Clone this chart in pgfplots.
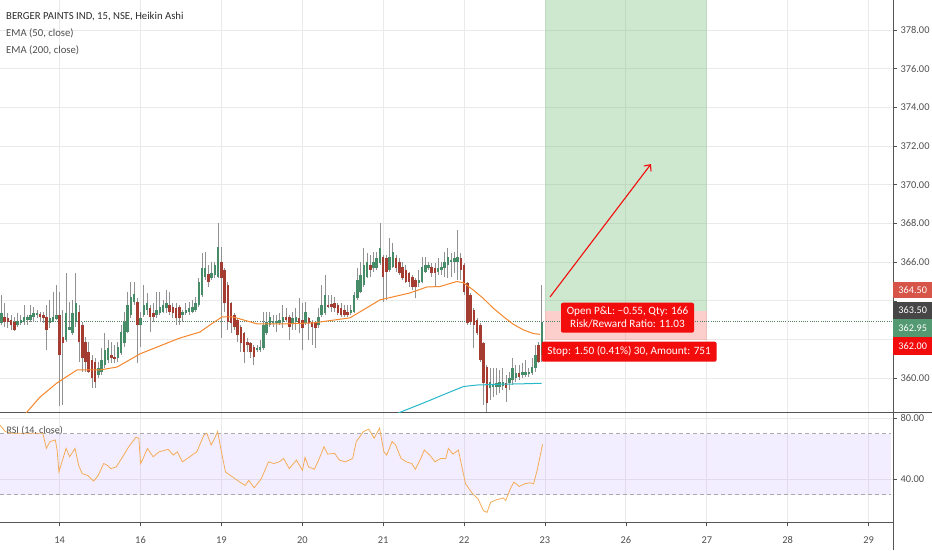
\documentclass[border=0pt]{standalone}
\usepackage{fontspec}
\setmainfont{Carlito}
\usepackage{pgfplots}
\usepackage{pgfplotstable}
\pgfplotsset{compat=1.18}
\usetikzlibrary{arrows.meta}

\definecolor{upc}{RGB}{70,140,105}
\definecolor{dnc}{RGB}{165,60,50}
\definecolor{wickc}{RGB}{145,145,145}
\definecolor{gridc}{RGB}{234,234,234}
\definecolor{axisc}{RGB}{85,85,85}
\definecolor{labc}{RGB}{80,80,80}
\definecolor{titc}{RGB}{45,45,45}
\definecolor{ema50}{RGB}{245,135,45}
\definecolor{ema200}{RGB}{40,185,200}
\definecolor{rsic}{RGB}{244,172,88}
\definecolor{tvred}{RGB}{242,12,12}
\definecolor{tvgreen}{RGB}{76,175,80}
\definecolor{tvpink}{RGB}{244,67,54}
\definecolor{bandc}{RGB}{153,102,255}
\definecolor{lastc}{RGB}{80,130,100}
\definecolor{hic}{RGB}{214,84,72}
\definecolor{entc}{RGB}{70,70,70}
\definecolor{curc}{RGB}{83,153,114}
\definecolor{dashc}{RGB}{170,170,170}

% Heikin Ashi candles, 15 min: x (trading day index) o h l c
\pgfplotstableread{
x o h l c
-0.72 362.84 364.31 362.76 363.36
-0.68 363.19 363.88 362.67 362.93
-0.64 363.14 363.36 362.58 362.90
-0.60 363.01 363.27 362.50 362.76
-0.56 362.93 363.19 362.45 362.50
-0.52 362.76 363.36 362.67 362.96
-0.48 362.84 363.27 362.76 363.01
-0.44 362.93 363.79 362.76 363.19
-0.40 363.01 363.27 362.76 363.19
-0.36 363.01 363.79 362.90 363.27
-0.32 363.19 363.70 362.93 363.36
-0.28 363.27 363.53 363.10 363.36
-0.24 363.31 363.44 362.90 363.19
-0.20 363.27 363.44 362.84 363.10
-0.16 363.19 363.79 361.46 362.50
-0.12 362.84 364.05 362.58 363.10
-0.08 362.93 364.48 362.93 363.19
-0.04 363.07 364.82 363.01 363.27
0.00 363.27 364.48 358.59 361.20
0.04 362.15 363.53 358.62 361.81
0.08 361.98 365.43 361.89 363.36
0.12 362.50 363.96 362.50 362.67
0.16 362.32 364.05 362.24 363.36
0.20 362.93 365.43 362.67 363.88
0.24 363.44 363.79 360.86 361.89
0.28 362.76 362.93 360.34 361.03
0.32 361.89 362.15 360.34 360.86
0.36 361.38 361.89 360.26 360.34
0.40 360.95 361.20 359.48 360.00
0.44 360.86 361.03 359.48 359.83
0.48 360.17 360.86 360.00 360.52
0.52 360.34 361.55 360.17 360.95
0.56 360.69 362.32 360.52 361.46
0.60 360.95 361.98 360.77 361.55
0.64 361.20 361.89 360.77 361.03
0.68 361.12 361.72 360.77 361.00
0.72 361.03 361.89 360.86 361.64
0.76 361.29 362.76 361.20 362.41
0.80 361.81 363.44 361.64 362.93
0.84 362.41 364.48 362.32 363.79
0.88 363.27 365.00 363.10 364.22
0.92 363.96 365.00 363.79 364.35
0.96 363.96 364.13 360.77 362.76
1.00 362.76 363.44 361.64 363.10
1.04 363.27 364.82 363.19 363.79
1.08 363.53 364.39 363.27 363.88
1.12 363.62 363.79 362.41 363.19
1.16 363.36 363.88 362.93 363.19
1.20 363.27 364.48 363.10 363.53
1.24 363.36 364.48 363.27 363.70
1.28 363.44 364.05 363.36 363.79
1.32 363.62 364.56 363.36 363.88
1.36 363.79 364.48 363.27 363.44
1.40 363.70 363.88 363.10 363.36
1.44 363.62 363.88 362.76 363.10
1.48 363.70 363.79 362.76 363.10
1.52 363.27 363.53 362.93 363.44
1.56 363.36 363.88 363.27 363.53
1.60 363.44 363.96 363.27 363.62
1.64 363.44 364.05 363.36 363.70
1.68 363.53 364.22 363.44 363.88
1.72 363.79 365.17 363.70 365.00
1.76 364.31 366.46 364.22 365.68
1.80 365.25 366.55 365.08 365.68
1.84 365.38 365.86 364.74 365.00
1.88 365.17 366.03 365.08 365.43
1.92 365.34 366.03 365.17 365.86
1.96 365.25 368.01 365.17 366.80
2.00 366.03 366.80 362.07 365.17
2.04 365.60 365.68 363.44 363.88
2.08 364.82 365.00 362.50 362.93
2.12 363.88 363.96 362.32 362.84
2.16 363.27 363.36 362.50 362.67
2.20 363.01 363.10 361.89 362.24
2.24 362.67 362.76 361.38 361.81
2.28 362.32 362.41 360.77 361.38
2.32 361.89 362.07 361.38 361.72
2.36 361.81 361.89 361.03 361.38
2.40 361.64 361.72 360.69 361.12
2.44 361.46 361.72 361.38 361.55
2.48 361.46 361.98 361.38 361.64
2.52 361.55 363.44 361.46 362.76
2.56 362.32 363.44 362.24 362.93
2.60 362.76 363.44 362.67 363.19
2.64 362.84 363.27 362.67 362.96
2.68 362.84 363.27 362.41 362.96
2.72 362.84 363.36 362.76 363.01
2.76 362.93 363.79 362.58 363.19
2.80 363.19 363.62 362.93 363.01
2.84 363.19 363.27 361.98 362.67
2.88 362.84 363.44 362.50 363.10
2.92 362.93 363.62 362.50 363.19
2.96 363.10 364.13 362.32 362.84
3.00 363.01 363.88 361.46 362.58
3.04 362.84 363.96 362.76 363.44
3.08 363.10 363.19 361.98 362.84
3.12 362.93 363.01 361.72 362.67
3.16 362.84 362.93 361.55 362.58
3.20 362.76 363.62 362.58 363.19
3.24 363.27 364.82 363.19 363.79
3.28 363.36 365.34 363.27 364.31
3.32 363.79 364.31 363.62 363.70
3.36 363.82 364.31 363.44 363.66
3.40 363.88 364.22 363.44 363.62
3.44 363.79 363.88 363.27 363.36
3.48 363.62 363.88 363.19 363.27
3.52 363.53 363.79 363.19 363.27
3.56 363.44 363.79 363.19 363.27
3.60 363.36 363.79 363.27 363.53
3.64 363.44 364.48 363.36 364.31
3.68 364.13 365.68 364.05 365.08
3.72 364.48 366.03 364.39 365.34
3.76 364.82 366.72 364.74 365.86
3.80 365.25 366.46 365.17 366.03
3.84 365.86 366.37 365.25 365.60
3.88 365.68 366.55 365.51 366.03
3.92 365.68 366.55 365.60 366.20
3.96 365.94 368.01 365.86 366.72
4.00 366.29 366.37 363.96 365.25
4.04 366.20 366.37 364.05 365.51
4.08 365.60 367.23 365.51 366.29
4.12 365.77 366.98 365.68 366.55
4.16 366.20 366.37 365.51 365.68
4.20 366.03 366.20 365.34 365.43
4.24 365.77 366.03 365.08 365.17
4.28 365.60 365.86 364.91 365.00
4.32 365.43 365.51 364.74 365.00
4.36 365.25 365.34 364.56 364.74
4.40 365.08 365.17 364.13 364.74
4.44 364.91 365.60 364.74 365.08
4.48 365.00 366.29 364.91 365.77
4.52 365.51 366.29 365.43 365.86
4.56 365.68 366.03 365.60 365.86
4.60 365.77 365.94 365.25 365.43
4.64 365.68 365.94 364.74 365.43
4.68 365.51 366.20 365.34 365.68
4.72 365.60 366.03 365.34 365.77
4.76 365.68 366.55 365.25 366.03
4.80 365.86 366.72 365.17 366.29
4.84 366.03 366.46 365.25 366.11
4.88 366.03 366.55 365.43 366.20
4.92 366.03 367.66 365.08 366.29
4.96 366.20 366.46 365.08 365.60
5.00 365.86 365.94 364.31 364.48
5.04 364.91 365.00 362.76 362.84
5.08 364.31 364.39 362.76 362.93
5.12 363.53 363.62 361.55 362.76
5.16 363.01 363.10 362.24 362.32
5.20 362.76 362.84 360.86 360.95
5.24 361.81 361.89 358.62 359.74
5.28 360.60 360.69 358.28 358.71
5.32 359.48 360.52 358.88 359.83
5.36 359.57 360.52 359.05 359.65
5.40 359.57 360.52 359.14 359.74
5.44 359.57 360.43 359.22 359.83
5.48 359.62 360.52 359.40 359.83
5.52 359.74 360.17 358.79 359.48
5.56 359.74 360.34 359.40 360.00
5.60 359.91 361.03 359.65 360.52
5.64 360.00 360.69 359.83 360.26
5.68 360.26 360.69 359.91 360.09
5.72 360.17 360.77 360.00 360.34
5.76 360.17 360.95 360.09 360.34
5.80 360.21 360.52 360.09 360.31
5.84 360.26 361.03 360.17 360.60
5.88 360.52 361.72 360.34 361.20
5.92 361.72 361.89 360.77 360.86
5.96 361.20 364.82 360.86 362.93
}\ha

\pgfplotsset{
  tvpanel/.style={
    scale only axis, width=893pt,
    xmin=-0.737, xmax=10.302,
    axis x line*=bottom, axis y line*=right,
    axis line style={axisc, line width=1pt},
    xtick={0,...,10},
    grid=major, major grid style={gridc, line width=0.8pt},
    tick align=outside, major tick length=4pt,
    tick style={labc, line width=0.6pt},
    yticklabel style={font=\fontsize{10.4}{12}\selectfont, text=labc},
    xticklabel style={font=\fontsize{10.4}{12}\selectfont, text=labc},
    clip mode=individual,
  },
  wick/.style={draw=none, mark=none, forget plot,
    error bars/y dir=plus, error bars/y explicit, error bars/error mark=none,
    error bars/error bar style={line width=0.9pt, draw=wickc}},
  body/.style={draw=none, mark=none, forget plot,
    error bars/y dir=plus, error bars/y explicit, error bars/error mark=none,
    error bars/error bar style={line width=2.5pt, draw=#1, line cap=butt}},
}
\tikzset{
  pricebox/.style={anchor=west, minimum width=39pt, minimum height=17.5pt,
    inner sep=0pt, text=white, font=\fontsize{10.2}{12}\selectfont},
}

\begin{document}
\begin{tikzpicture}
\fill[white] (0,0) rectangle (932pt,550pt);
\useasboundingbox (0,0) rectangle (932pt,550pt);

% price panel
\begin{axis}[tvpanel, at={(0pt,137.5pt)}, anchor=south west, height=412.5pt,
  ymin=358.23, ymax=379.55,
  ytick={360,362,...,378},
  yticklabels={360.00,,,366.00,368.00,370.00,372.00,374.00,376.00,378.00},
  xticklabel={\phantom{0}}, x tick style={draw=none}]
% long position: target and stop zones
\addplot[fill=tvgreen, fill opacity=0.28, draw=none, forget plot]
  coordinates {(6,363.5) (8,363.5) (8,380.05) (6,380.05)} -- cycle;
\addplot[fill=tvpink, fill opacity=0.25, draw=none, forget plot]
  coordinates {(6,362.0) (8,362.0) (8,363.5) (6,363.5)} -- cycle;
% last price
\addplot[lastc, line width=0.7pt, dash pattern=on 0.8pt off 1.4pt]
  coordinates {(-0.737,362.95) (10.302,362.95)};
% candles: wicks, then rising and falling bodies (zero length where not applicable)
\addplot[wick] table[x=x, y=l, y error expr=\thisrow{h}-\thisrow{l}] {\ha};
\addplot[body=upc] table[x=x, y=o, y error expr={max(\thisrow{c}-\thisrow{o},0)}] {\ha};
\addplot[body=dnc] table[x=x, y=c, y error expr={max(\thisrow{o}-\thisrow{c},0)}] {\ha};
% EMA 200
\addplot[ema200, line width=1pt] coordinates {
(3.95,357.70) (4.208,358.24) (4.537,358.79) (4.785,359.22) (4.99,359.57)
(5.156,359.65) (5.444,359.69) (5.691,359.71) (5.959,359.74)};
% EMA 50
\addplot[ema50, line width=1pt] coordinates {
(-0.49,357.85) (-0.403,358.26) (-0.242,359.03) (-0.032,359.76) (0.215,360.43)
(0.499,360.43) (0.710,360.58) (0.994,361.26) (1.328,361.82) (1.488,362.08)
(1.735,362.39) (1.895,362.86) (2.007,363.17) (2.143,363.17) (2.440,362.81)
(2.761,362.81) (3.132,362.86) (3.589,363.12) (3.960,364.05) (4.331,364.41)
(4.541,364.72) (4.702,364.74) (4.908,365.00) (4.99,364.94) (5.114,364.56)
(5.237,364.13) (5.361,363.62) (5.485,363.19) (5.608,362.79) (5.732,362.50)
(5.856,362.31) (5.938,362.27)};
% arrow
\addplot[tvred, line width=1.1pt, -{Straight Barb[length=5pt,width=9pt]}]
  coordinates {(6.062,364.20) (7.31,371.07)};
% trade labels
\node[fill=tvred, text=white, rounded corners=2pt, align=center, inner sep=1pt,
  minimum width=133pt, minimum height=30pt,
  font=\fontsize{11.2}{12.8}\selectfont] at (axis cs:7.02,363.13)
  {Open P\&L: −0.55, Qty: 166\\Risk/Reward Ratio: 11.03};
\node[fill=tvred, text=white, rounded corners=2pt, inner sep=1pt,
  minimum width=175pt, minimum height=20pt,
  font=\fontsize{11.2}{12.8}\selectfont] at (axis cs:7.04,361.37)
  {Stop: 1.50 (0.41\%) 30, Amount: 751};
% price scale labels
\node[pricebox, fill=hic, minimum height=15.5pt] at (rel axis cs:1,0.2964) {364.50};
\node[pricebox, fill=entc] at (rel axis cs:1,0.2473) {363.50};
\node[pricebox, fill=curc] at (rel axis cs:1,0.2048) {362.95};
\node[pricebox, fill=tvred] at (rel axis cs:1,0.1617) {362.00};
\end{axis}

% RSI panel
\begin{axis}[tvpanel, at={(0pt,27.7pt)}, anchor=south west, height=109.8pt,
  ymin=11.8, ymax=83.8, ytick={40,80}, yticklabels={40.00,80.00},
  xticklabels={14,16,19,20,21,22,23,26,27,28,29},
  xticklabel style={yshift=-7pt}]
\addplot[fill=bandc, fill opacity=0.11, draw=none, forget plot]
  coordinates {(-0.737,30) (10.277,30) (10.277,70) (-0.737,70)} -- cycle;
\addplot[dashc, line width=0.8pt, dash pattern=on 4pt off 3pt]
  coordinates {(-0.737,70) (10.277,70)};
\addplot[dashc, line width=0.8pt, dash pattern=on 4pt off 3pt]
  coordinates {(-0.737,30) (10.277,30)};
\addplot[rsic, line width=0.8pt] coordinates {
(-0.740,75.75) (-0.673,71.33) (-0.607,70.22) (-0.474,70.22) (-0.297,70.22)
(-0.208,70.22) (-0.164,60.28) (-0.120,64.70) (-0.053,65.80) (-0.031,59.17)
(-0.009,44.81) (0.035,52.54) (0.080,60.28) (0.124,54.75) (0.190,60.28)
(0.235,49.23) (0.279,43.70) (0.345,42.60) (0.421,38.84) (0.478,42.60)
(0.545,50.33) (0.589,49.23) (0.633,47.02) (0.700,48.12) (0.766,53.65)
(0.855,61.38) (0.943,67.57) (0.979,66.91) (1.001,50.33) (1.032,53.65)
(1.085,60.28) (1.156,54.75) (1.231,58.07) (1.342,59.61) (1.408,55.86)
(1.453,58.07) (1.519,51.44) (1.608,54.75) (1.696,58.07) (1.785,69.12)
(1.820,70.22) (1.873,62.49) (1.917,66.91) (1.953,71.33) (1.984,62.49)
(2.050,44.81) (2.139,41.49) (2.228,38.18) (2.294,35.97) (2.338,39.28)
(2.405,34.42) (2.493,40.39) (2.582,51.44) (2.648,50.33) (2.715,51.44)
(2.768,53.65) (2.839,47.02) (2.927,52.54) (3.002,45.91) (3.034,54.31)
(3.078,48.12) (3.149,46.57) (3.202,52.54) (3.268,61.38) (3.313,56.52)
(3.401,56.96) (3.459,52.54) (3.534,51.44) (3.623,53.65) (3.667,64.70)
(3.756,71.33) (3.822,72.87) (3.888,66.91) (3.955,73.54) (4.008,58.07)
(4.043,55.86) (4.110,64.70) (4.154,62.49) (4.221,53.65) (4.287,51.44)
(4.353,50.33) (4.398,46.57) (4.464,53.65) (4.508,59.17) (4.575,55.86)
(4.641,51.44) (4.708,53.65) (4.774,53.65) (4.805,60.28) (4.862,56.52)
(4.929,59.17) (4.982,45.91) (5.018,37.07) (5.106,30.44) (5.173,27.13)
(5.239,19.39) (5.283,18.29) (5.328,24.92) (5.394,26.46) (5.483,27.79)
(5.514,26.02) (5.571,33.76) (5.616,38.18) (5.682,35.30) (5.748,37.07)
(5.815,37.73) (5.859,37.07) (5.903,45.91) (5.970,62.93)};
\end{axis}

% axis line continuations
\draw[axisc, line width=1pt] (893pt,0pt) -- (893pt,27.7pt);
\draw[axisc, line width=1pt] (893pt,137.5pt) -- (932pt,137.5pt);

% legends
\node[anchor=base west, inner sep=0pt, text=titc, font=\fontsize{10.7}{12}\selectfont]
  at (6pt,530pt) {BERGER PAINTS IND, 15, NSE, Heikin Ashi};
\node[anchor=base west, inner sep=0pt, text=labc, font=\fontsize{10.7}{12}\selectfont]
  at (6pt,513.3pt) {EMA (50, close)};
\node[anchor=base west, inner sep=0pt, text=labc, font=\fontsize{10.7}{12}\selectfont]
  at (6pt,496pt) {EMA (200, close)};
\node[anchor=base west, inner sep=0pt, text=labc, font=\fontsize{10}{12}\selectfont]
  at (6.4pt,116.7pt) {RSI (14, close)};
\end{tikzpicture}
\end{document}
